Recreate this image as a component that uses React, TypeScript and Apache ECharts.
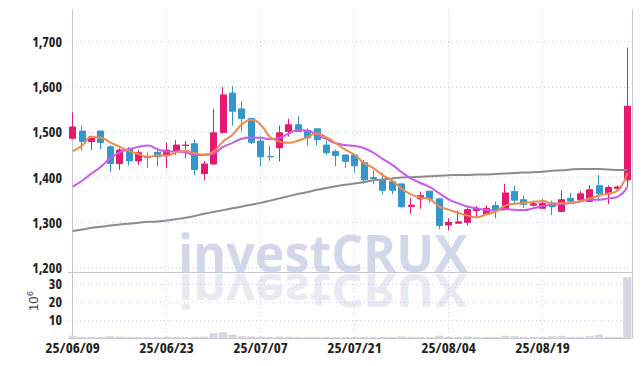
import React, { useEffect, useRef } from 'react';
import * as echarts from 'echarts';

const dates = [
  '25/06/09','25/06/10','25/06/11','25/06/12','25/06/13','25/06/16','25/06/17','25/06/18','25/06/19','25/06/20',
  '25/06/23','25/06/24','25/06/25','25/06/26','25/06/27','25/06/30','25/07/01','25/07/02','25/07/03','25/07/04',
  '25/07/07','25/07/08','25/07/09','25/07/10','25/07/11','25/07/14','25/07/15','25/07/16','25/07/17','25/07/18',
  '25/07/21','25/07/22','25/07/23','25/07/24','25/07/25','25/07/28','25/07/29','25/07/30','25/07/31','25/08/01',
  '25/08/04','25/08/05','25/08/06','25/08/07','25/08/08','25/08/11','25/08/12','25/08/13','25/08/14','25/08/18',
  '25/08/19','25/08/20','25/08/21','25/08/22','25/08/25','25/08/26','25/08/27','25/08/28','25/08/29','25/09/01',
];

const opens = [1486,1502,1479,1502,1467,1430,1462,1436,1445,1455,1449,1458,1470,1474,1408,1429,1499,1586,1551,1530,1480,1446,1465,1501,1516,1502,1507,1471,1457,1449,1449,1432,1399,1394,1390,1385,1335,1352,1369,1352,1294,1298,1300,1326,1318,1337,1328,1368,1350,1338,1331,1343,1324,1353,1350,1346,1381,1363,1375,1394];
const closes = [1511,1479,1489,1477,1430,1460,1436,1454,1443,1445,1460,1471,1471,1417,1429,1498,1582,1546,1530,1477,1445,1445,1498,1516,1501,1487,1483,1454,1448,1435,1425,1394,1397,1371,1371,1335,1338,1359,1352,1293,1300,1301,1328,1331,1331,1328,1365,1349,1340,1341,1342,1335,1350,1347,1363,1372,1363,1377,1378,1557];
const lows = [1484,1460,1460,1462,1411,1416,1426,1427,1421,1424,1420,1449,1442,1404,1393,1428,1496,1514,1501,1473,1424,1436,1435,1490,1500,1470,1471,1449,1424,1420,1410,1385,1384,1362,1362,1331,1319,1330,1343,1285,1282,1297,1293,1312,1316,1309,1327,1340,1332,1335,1330,1316,1323,1344,1349,1346,1347,1340,1372,1379];
const highs = [1543,1513,1492,1502,1471,1464,1467,1460,1455,1464,1476,1482,1480,1483,1436,1551,1599,1602,1568,1531,1490,1470,1514,1529,1535,1508,1507,1480,1461,1450,1452,1438,1415,1410,1392,1386,1354,1368,1370,1353,1309,1326,1335,1336,1338,1346,1385,1381,1359,1348,1351,1348,1371,1365,1369,1382,1405,1382,1382,1687];

const ma5 = [1457,1470,1489,1487,1477,1467,1458,1451,1445,1448,1448,1455,1458,1453,1450,1457,1479,1494,1517,1527,1516,1489,1479,1476,1481,1489,1497,1488,1475,1461,1449,1431,1420,1404,1392,1374,1362,1355,1351,1335,1328,1321,1315,1311,1318,1324,1337,1341,1343,1345,1347,1341,1342,1343,1347,1353,1359,1364,1371,1409];
const ma10 = [1379,1392,1408,1423,1442,1455,1462,1467,1470,1462,1457,1457,1455,1449,1449,1452,1467,1476,1485,1488,1487,1484,1487,1497,1504,1503,1493,1484,1475,1471,1469,1464,1454,1440,1427,1411,1397,1387,1378,1364,1351,1342,1335,1331,1327,1326,1329,1328,1327,1331,1336,1339,1341,1343,1346,1350,1350,1353,1357,1378];
const ma60 = [1281,1284,1288,1290,1293,1295,1297,1299,1301,1302,1304,1307,1310,1314,1319,1323,1327,1331,1335,1339,1343,1348,1353,1358,1363,1367,1372,1376,1380,1383,1386,1389,1393,1395,1397,1399,1400,1401,1402,1403,1404,1405,1405,1406,1406,1407,1408,1409,1410,1411,1412,1414,1415,1417,1418,1418,1418,1417,1416,1416];

const volumes = [1.2,0.6,0.4,0.5,0.9,0.7,0.5,0.4,0.3,0.3,0.5,0.4,0.3,0.6,0.7,2.6,3.1,1.8,1.0,0.8,0.6,0.4,0.7,0.6,0.4,0.4,0.4,0.4,0.3,0.4,0.4,0.5,0.3,0.5,0.4,0.8,0.6,0.5,0.4,1.3,0.6,0.5,0.8,0.4,0.4,0.4,1.2,1.0,0.6,0.4,0.4,0.9,1.2,0.4,0.5,1.0,1.8,0.5,0.4,33.4];

const priceMin = 1190;
const priceMax = 1770;
const volMax = 36.5;

const UP = '#E5196F';
const DOWN = '#3397CB';
const AXIS = '#C6C7D3';
const GRIDC = '#C9CCE0';
const WM_FONT = "bold 52px 'Open Sans', 'Liberation Sans', sans-serif";

export default function App() {
  const ref = useRef<HTMLDivElement>(null);
  useEffect(() => {
    if (!ref.current) return;
    const chart = echarts.init(ref.current, undefined, { renderer: 'svg' });
    const candle = dates.map((_, i) => [opens[i], closes[i], lows[i], highs[i]]);
    const labelStyle = { fontFamily: "'Open Sans', sans-serif;font-stretch:condensed", fontWeight: 'bold', fontSize: 14, color: '#222' };
    const dotted = { show: true, lineStyle: { color: GRIDC, type: [1, 3] as any, width: 1 }, showMinLine: false, showMaxLine: false };
    const option: any = {
      animation: false,
      grid: [
        { left: 68, right: 10, top: 10, height: 262 },
        { left: 68, right: 10, top: 272, height: 66 },
      ],
      graphic: [
        {
          type: 'text', x: 178, y: 252, scaleX: 0.965, z: -10, silent: true,
          style: { text: 'investCRUX', font: WM_FONT, fill: '#D2D8EA', textVerticalAlign: 'middle', textAlign: 'left' },
        },
        {
          type: 'text', x: 178, y: 274, scaleX: 0.965, scaleY: -0.9, z: -10, silent: true,
          style: { text: 'investCRUX', x: 0, y: -20, font: WM_FONT, fill: '#E8EAF1', textVerticalAlign: 'middle', textAlign: 'left' },
        },
        {
          type: 'group', x: 33, y: 302, rotation: Math.PI / 2, silent: true,
          children: [
            { type: 'text', style: { text: '10', x: -9, y: 0, font: "13px 'Liberation Sans', Arial, sans-serif", fill: '#444', textVerticalAlign: 'middle', textAlign: 'left' } },
            { type: 'text', style: { text: '6', x: 6, y: -3, font: "9px 'Liberation Sans', Arial, sans-serif", fill: '#444', textVerticalAlign: 'middle', textAlign: 'left' } },
          ],
        },
      ],
      xAxis: [
        {
          type: 'category', gridIndex: 0, data: dates, boundaryGap: true,
          axisLine: { show: true, lineStyle: { color: AXIS } }, axisTick: { show: false }, axisLabel: { show: false }, splitLine: { show: false },
        },
        {
          type: 'category', gridIndex: 1, data: dates, boundaryGap: true,
          axisLine: { show: true, lineStyle: { color: AXIS } }, axisTick: { show: false },
          axisLabel: { ...labelStyle, fontSize: 15, interval: 9, margin: 4 }, splitLine: { show: false },
        },
        {
          type: 'value', gridIndex: 0, min: -0.5, max: dates.length - 0.5, minInterval: 10, maxInterval: 10,
          axisLine: { show: false }, axisTick: { show: false }, axisLabel: { show: false }, splitLine: dotted,
        },
        {
          type: 'value', gridIndex: 1, min: -0.5, max: dates.length - 0.5, minInterval: 10, maxInterval: 10,
          axisLine: { show: false }, axisTick: { show: false }, axisLabel: { show: false }, splitLine: dotted,
        },
      ],
      yAxis: [
        {
          type: 'value', gridIndex: 0, position: 'left', min: priceMin, max: priceMax, minInterval: 100, maxInterval: 100,
          axisLine: { show: true, lineStyle: { color: AXIS } }, axisTick: { show: false },
          axisLabel: { ...labelStyle, lineHeight: 13, margin: 6, showMinLabel: false, showMaxLabel: false, formatter: (v: number) => v.toLocaleString('en-US') },
          splitLine: dotted,
        },
        {
          type: 'value', gridIndex: 1, position: 'left', min: 0, max: volMax, minInterval: 10, maxInterval: 10,
          axisLine: { show: true, lineStyle: { color: AXIS } }, axisTick: { show: false },
          axisLabel: { ...labelStyle, lineHeight: 13, margin: 6, showMinLabel: false, showMaxLabel: false },
          splitLine: dotted,
        },
        {
          type: 'value', gridIndex: 0, position: 'right', min: 0, max: 1,
          axisLine: { show: true, lineStyle: { color: AXIS } }, axisTick: { show: false }, axisLabel: { show: false }, splitLine: { show: false },
        },
        {
          type: 'value', gridIndex: 1, position: 'right', min: 0, max: 1,
          axisLine: { show: true, lineStyle: { color: AXIS } }, axisTick: { show: false }, axisLabel: { show: false }, splitLine: { show: false },
        },
      ],
      series: [
        {
          type: 'candlestick', xAxisIndex: 0, yAxisIndex: 0, data: candle, barWidth: '70%',
          itemStyle: { color: UP, color0: DOWN, borderColor: UP, borderColor0: DOWN, borderWidth: 1 },
        },
        { type: 'line', xAxisIndex: 0, yAxisIndex: 0, data: ma60, smooth: true, showSymbol: false, lineStyle: { color: '#8C8C8C', width: 2 } },
        { type: 'line', xAxisIndex: 0, yAxisIndex: 0, data: ma10, smooth: true, showSymbol: false, lineStyle: { color: '#C95BEB', width: 2 } },
        { type: 'line', xAxisIndex: 0, yAxisIndex: 0, data: ma5, smooth: true, showSymbol: false, lineStyle: { color: '#F08A4B', width: 2 } },
        {
          type: 'bar', xAxisIndex: 1, yAxisIndex: 1, data: volumes, barWidth: '85%',
          itemStyle: { color: '#D9D9E0', borderColor: '#C8C8D2', borderWidth: 0.5 },
        },
      ],
    };
    chart.setOption(option);
    return () => chart.dispose();
  }, []);
  return <div ref={ref} style={{ width: 642, height: 366, position: 'absolute', left: 0, top: 0 }} />;
}
